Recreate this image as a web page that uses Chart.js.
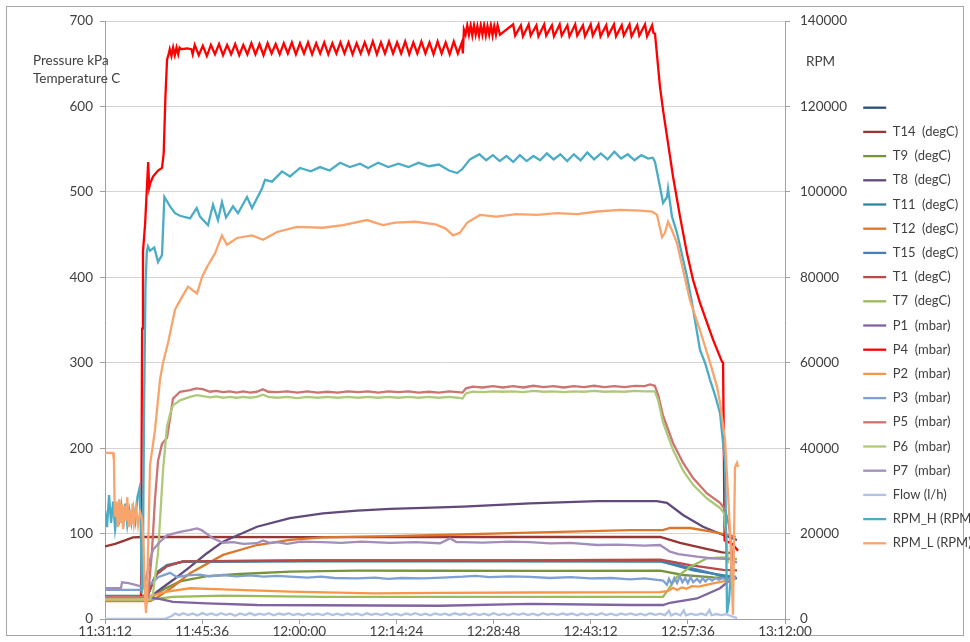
<!DOCTYPE html>
<html>
<head>
<meta charset="utf-8">
<script src="https://cdn.jsdelivr.net/npm/chart.js@4.4.1/dist/chart.umd.min.js"></script>
<style>
  html, body { margin: 0; padding: 0; background: #fff; }
  #wrap { width: 970px; height: 642px; }
</style>
</head>
<body>
<div id="wrap"><canvas id="chart" width="970" height="642"></canvas></div>
<script>
// x values are minutes after 11:31:12, y values in kPa / degC (RPM series in RPM)
const startSec = 11 * 3600 + 31 * 60 + 12;
const xMaxSec = 6048;      // 13:12:00
const xStepSec = 864;      // 0:14:24
const leftTicks = [0, 700, 100];
const rightTicks = [0, 140000, 20000];

const blank = [];
const t14 = [[0,85],[1.5,88],[2.96,92],[4.15,95.5],[5.5,96],[30,95.8],[60,96],[82.3,96],[85.24,89],[88.65,83],[91.5,78],[93.1,77]];
const t9 = [[0,23],[5.5,23],[6.67,24],[7.71,30],[9.0,36],[10.08,40],[11.12,44],[12.6,46.5],[15.12,50.3],[20,52.7],[27.42,55.4],[37.36,56.6],[50,56.5],[65,56.3],[82.3,56.5],[85.68,51.5],[90.13,48.8],[93.69,47.5]];
const t8 = [[0,24],[6.0,24],[6.67,25],[7.71,32],[10.08,45.6],[12.6,61],[15.12,77],[17.49,90.5],[22.53,108],[27.42,118],[32.32,123.7],[37.36,126.8],[42.25,129],[49.66,130.7],[53.07,131.5],[63.0,135.4],[72.93,138],[81.8,138],[83.3,136],[85.68,121.7],[88.65,108],[91.62,98.3],[93.69,92.5]];
const t11 = [[0,27],[5.6,27],[6.4,30],[6.97,42],[7.71,55],[9.19,63],[11.56,67],[30,67.5],[60,67.5],[82.3,67.3],[84.2,63.5],[87.2,57],[90.1,53],[92.6,50],[93.5,49.5]];
const t12 = [[0,21],[6.7,21],[7.9,26],[10.08,37.8],[12.6,53.7],[17.49,75],[22.53,86.6],[27.42,92.5],[32.32,95.6],[42.25,97],[49.66,98.3],[63.0,101],[77.83,104],[82.7,104],[83.76,106.5],[86.72,106.5],[90.13,102],[92.65,98],[93.5,96]];
const t15 = [[0,25],[5.6,25],[6.4,29],[6.97,40],[7.71,53],[9.19,62],[11.56,67.5],[30,68.5],[60,68.5],[82.3,68.3],[85.68,62],[90.13,53],[92.6,48],[93.69,48]];
const t1 = [[0,25],[5.6,25],[6.4,29],[6.97,40],[7.71,53],[9.19,62],[11.56,67.5],[30,68.5],[60,68.5],[82.3,69.5],[84.2,67],[86.72,63],[91.62,57.4],[93.69,57]];
const t7 = [[0,22],[6.0,22],[10.08,26],[17.49,27.3],[32.32,26],[49.66,26],[82.72,26],[83.46,34],[84.79,49.5],[86.72,61],[89.24,71],[91.62,72],[93.69,70]];
const p1 = [[0,26],[5.63,26],[7.71,24],[10.08,20],[15.12,18.3],[22.53,16.4],[49.66,15.5],[63,17.6],[77.83,16.4],[82.72,16.4],[83.76,19],[87.76,24],[91.17,36],[92.65,45.6],[93.5,48]];
const p4 = [[0,24],[5.34,24],[5.5,340],[5.63,430],[5.95,463],[6.4,535],[6.55,505],[6.7,510],[7.12,518],[7.86,525],[8.45,528],[8.7,545],[8.95,610],[9.2,655],
  [9.4,660],[9.6,667],[9.85,659],[10.1,669],[10.35,660],[10.6,669],[10.85,661],[11.05,669],[11.3,667],[12.2,668],[12.8,667],[13.0,661],
  [13.3,672],[13.9,660],[14.5,671],[15.1,659],[15.7,672],[16.3,661],[16.9,673],[17.5,660],[18.1,672],[18.7,661],[19.3,673],[19.9,660],
  [20.5,672],[21.1,661],[21.7,674],[22.3,661],[22.9,673],[23.5,660],[24.1,674],[24.7,662],[25.3,673],[25.9,661],[26.5,674],[27.1,662],
  [27.7,675],[28.3,661],[28.9,674],[29.5,662],[30.1,675],[30.7,661],[31.3,674],[31.9,662],[32.5,675],[33.1,661],[33.7,674],[34.3,662],
  [34.9,675],[35.5,662],[36.1,675],[36.7,661],[37.3,674],[37.9,662],[38.5,675],[39.1,662],[39.7,676],[40.3,661],[40.9,675],[41.5,662],
  [42.1,676],[42.7,662],[43.3,675],[43.9,662],[44.5,676],[45.1,661],[45.7,675],[46.3,662],[46.9,676],[47.5,662],[48.1,675],[48.7,661],
  [49.3,676],[49.9,662],[50.5,675],[51.1,661],[51.7,676],[52.3,662],[52.9,675],[53.05,662],
  [53.2,690],[53.45,684],[53.7,695],[53.95,684],[54.2,695],[54.45,683],[54.7,695],[54.95,684],[55.2,694],[55.45,683],[55.7,695],[55.95,684],
  [56.2,695],[56.45,683],[56.7,694],[56.95,684],[57.2,695],[57.45,683],[57.7,694],[57.95,684],[58.2,695],[58.55,684],
  [60.5,696],[60.8,683],[61.65,695],[61.95,682],[62.8,696],[63.1,683],[63.95,695],[64.25,682],[65.1,696],[65.4,683],[66.25,695],[66.55,682],
  [67.4,696],[67.7,683],[68.55,695],[68.85,682],[69.7,696],[70.0,683],[70.85,695],[71.15,682],[72.0,696],[72.3,683],[73.15,696],[73.45,682],
  [74.3,695],[74.6,683],[75.45,696],[75.75,682],[76.6,695],[76.9,683],[77.75,696],[78.05,682],[78.9,695],[79.2,683],[80.05,696],[80.35,682],
  [81.1,695],[81.3,686],[81.53,685],[82.27,623],[82.72,596],[83.46,557],[84.2,518],[85.24,471],[86.27,428],[87.17,397],[88.2,370],
  [90.13,327],[91.47,301],[91.62,300],[91.85,92],[93.0,88],[93.84,80]];
const p2 = [[0,23],[5.6,23],[6.23,26],[9.19,32],[12.6,36],[17.49,34.7],[27.42,32],[39.73,30],[49.66,30.5],[63,31],[82.27,31.5],[83.5,33],[84.2,36.5],[84.8,34],[85.5,37],[86.2,35.5],[87,38.5],[88,38],[90.13,41.8],[92.65,45.6],[93.5,47]];
const p3 = [[0,34],[5.3,34],[5.6,36],[6.2,40],[6.97,42],[7.86,49],[9.64,54],[10.67,49],[12.16,51],[14.08,52],[15.5,50],[17.49,51.5],[19.5,50],[21.5,51],[23.5,49.5],[25.5,50.5],
  [27.42,49.5],[30,48.5],[32,49.5],[34,48],[37.36,47.6],[40,48.5],[42,47],[44,48],[47.14,47.6],[50,48.5],[53.07,49.5],[55,50.5],[57,49],[60,50],[63,49.2],[66,48],
  [69,49],[72,47.5],[75,48],[77.83,46.4],[80,47.5],[82.72,45],[83.3,40],[83.6,47],[84.0,41],[84.4,48],[84.8,42],[85.2,50],[85.6,43],[86.0,48],[86.4,42],[86.8,49],
  [87.2,43],[87.76,47],[88.2,43],[88.6,48],[89.0,44],[89.5,48],[90,45],[90.5,48],[91,46],[91.6,48],[92.2,45],[92.8,49],[93.5,48]];
const p5 = [[0,26],[6.37,26],[6.97,80],[7.41,140],[7.86,185],[8.45,205],[9.19,212],[9.64,235],[10.08,258],[11.12,266],[12.6,268],[13.49,270],[14.5,269],[15.57,266],
  [16.5,267],[17.5,265.5],[18.5,266.5],[19.5,265],[20.5,266.5],[21.5,265],[22.5,266],[23.4,269],[24.2,266],[25.5,265.5],[27,266.5],[28.5,265],[30,266.5],[31.5,265],
  [33,266],[34.5,265],[36,266.5],[37.5,265.5],[39,266.5],[40.5,265],[42,266.5],[43.5,265.5],[45,266.5],[46.5,265],[48,266],[49.5,265],[51,266.5],[52.3,265.5],
  [53.0,265],[53.5,270],[54.5,272],[56,271],[57.5,272.5],[59,271],[60.5,272.5],[62,271],[63.5,273],[65,271.5],[66.5,272.5],[68,271],[69.5,272.5],[71,271.5],
  [72.5,273],[74,271.5],[75.5,272.5],[77,271.5],[78.5,273],[80,272.5],[80.8,274.5],[81.5,273],[82.0,262],[82.72,238],[84.2,206],[85.68,183],[87.17,165],
  [89.24,147],[91.17,136],[91.91,128],[92.5,110],[92.9,80],[93.2,62]];
const p6 = [[0,23],[6.67,23],[7.12,30],[7.86,77],[8.6,174],[9.19,225],[9.64,240],[10.08,250],[11.12,256],[12.6,260],[13.6,262],[14.5,261],[15.57,259.5],
  [16.5,260.5],[17.5,259],[18.5,260],[19.5,259],[20.5,260],[21.5,259],[22.5,260],[23.4,262.5],[24.2,260],[25.5,259],[27,260],[28.5,258.5],[30,260],[31.5,259],
  [33,260],[34.5,259],[36,260],[37.5,259],[39,260],[40.5,259],[42,260],[43.5,259],[45,260],[46.5,259],[48,260],[49.5,259],[51,260],[52.3,259],
  [53.0,258],[53.5,264],[54.5,266],[56,265.5],[57.5,266.5],[59,266],[60.5,266.5],[62,265.5],[63.5,267],[65,266],[66.5,266.5],[68,265.5],[69.5,266.5],[71,266],
  [72.5,267],[74,266],[75.5,266.5],[77,266],[78.5,267],[80,266.5],[81.5,266.5],[82.0,256],[82.72,230],[84.2,198],[85.68,174],[87.17,157],
  [89.24,141],[91.17,130],[91.76,124],[92.1,95],[92.4,65]];
const p7 = [[0,36],[2.37,36],[2.52,43],[3.5,42],[4.5,40],[5.19,38.5],[5.63,38],[6.0,45],[6.67,69],[7.12,81],[8.15,90.5],[9.19,98],[11.12,102],[12.5,104],[13.64,106],
  [14.3,104],[14.53,103],[16.0,94.4],[17.49,89.3],[19,90],[20.5,88],[22.53,88.7],[23.42,92],[24.5,89],[25.5,90],[27,88],[29,90.5],[32.32,90],[35,89],[38,90.5],
  [42.25,89],[46,90],[49.66,88.7],[51.14,94.4],[52.1,90],[53.07,90],[56,89.5],[60,90.5],[63,90],[66,88.5],[69,89],[72.93,86.6],[76,87],[80,86],[82.27,86.6],
  [83.76,78.8],[85,76],[87.76,73],[90,71],[92.65,70],[93.69,66]];
const flow = [[0,0],[8.9,0],[9.3,1.5],[9.9,3.5],[10.4,6.5],[11.0,4.5],[11.6,6.8],[12.3,4.6],[13.0,6.4],[13.7,4.2],[14.4,6.9],[15.1,4.8],[15.8,6.5],[16.5,4.4],
  [17.2,6.7],[17.9,4.9],[18.6,6.2],[19.3,3.8],[20.0,6.6],[20.8,4.7],[21.5,6.9],[22.2,4.5],[22.9,6.3],[23.6,4.8],[24.3,6.7],[25.0,4.3],[25.8,6.4],[26.5,5.0],
  [27.2,6.8],[27.9,4.6],[28.6,6.1],[29.4,4.4],[30.1,6.6],[30.8,4.9],[31.5,6.3],[32.3,4.5],[33.0,6.8],[33.7,4.7],[34.4,6.2],[35.2,4.4],[35.9,6.6],[36.6,4.9],
  [37.3,6.4],[38.1,4.3],[38.8,6.7],[39.5,5.0],[40.2,6.2],[41.0,4.5],[41.7,6.8],[42.4,4.6],[43.1,6.3],[43.9,4.4],[44.6,6.5],[45.3,4.9],[46.0,6.9],[46.8,4.6],
  [47.5,6.2],[48.2,4.4],[48.9,6.6],[49.7,4.8],[50.4,6.3],[51.1,4.5],[51.8,6.7],[52.6,5.0],[53.3,6.4],[54.0,4.3],[54.7,6.6],[55.5,4.7],[56.2,6.2],[56.9,4.5],
  [57.6,6.8],[58.4,4.6],[59.1,6.3],[59.8,4.4],[60.5,6.5],[61.3,4.9],[62.0,6.6],[62.7,4.6],[63.4,6.2],[64.2,4.4],[64.9,6.7],[65.6,4.8],[66.3,6.3],[67.1,4.5],
  [67.8,6.6],[68.5,5.0],[69.2,6.4],[70.0,4.3],[70.7,6.6],[71.4,4.7],[72.1,6.2],[72.9,4.5],[73.6,6.8],[74.3,4.6],[75.0,6.3],[75.8,4.4],[76.5,6.5],[77.2,4.9],
  [77.9,6.6],[78.7,4.6],[79.4,6.2],[80.1,4.4],[80.8,6.7],[81.6,4.8],[82.3,6.3],[83.0,4.5],[83.6,9.5],[83.9,4.2],[84.6,6.5],[85.3,4.4],[85.8,10],[86.1,4.3],
  [86.9,6.2],[87.6,4.5],[88.4,6.4],[89.1,4.6],[89.6,10.5],[89.9,4.4],[90.6,5.8],[91.4,4.5],[92.1,5.6],[92.8,3.5],[93.69,1.0]];
const rpmH = [[0,25500],[0.3,21500],[0.6,29000],[0.9,22500],[1.2,27500],[1.5,21000],[1.8,24500],[2.1,23000],[2.4,26500],[2.7,21500],[3.0,27000],[3.3,22000],
  [3.6,25500],[3.9,22500],[4.2,26000],[4.5,23000],[4.8,28500],[5.1,30500],[5.3,22000],[5.45,6000],[5.6,9000],[5.8,50000],[6.0,78000],[6.2,86000],[6.37,87200],
  [6.67,86200],[7.3,87000],[7.86,83600],[8.45,85200],[8.8,98800],[9.64,96600],[10.38,95000],[11.12,94400],[12.6,93800],[13.6,96200],[14.08,94200],[15.27,92200],
  [16.01,97000],[16.75,93400],[17.34,97600],[17.94,94000],[18.97,96600],[19.72,95000],[21.05,98800],[21.79,96200],[23.27,100800],[23.72,102800],[24.76,102400],
  [26.24,104800],[27.42,103600],[28.91,105600],[30.5,104800],[31.87,105800],[33.3,105000],[34.84,106800],[36.3,105800],[37.8,106600],[39,105600],[40.5,106800],
  [42,105800],[43.5,106600],[45,105800],[46.5,106800],[48,106000],[49.5,106400],[51,105000],[52.2,104400],[53,105400],[54.1,107600],[55.5,108800],[56.5,107400],
  [57.5,108600],[58.5,107200],[59.5,108400],[60.5,107000],[61.5,108600],[62.5,107200],[63.5,108400],[64.5,107400],[65.5,109000],[66.5,107600],[67.5,108800],
  [68.5,107200],[69.5,108800],[70.5,107400],[71.5,109200],[72.5,107600],[73.5,109000],[74.5,107600],[75.5,109400],[76.5,107800],[77.5,108800],[78.5,107400],
  [79.5,108600],[80.5,107800],[81.2,108000],[81.53,107000],[82.27,101200],[82.72,97400],[83.31,98800],[83.46,100800],[84.05,94200],[84.79,90400],[86.27,80200],
  [87.02,74000],[88.2,63000],[88.94,60000],[89.69,56000],[90.43,52400],[91.17,48200],[91.91,36600],[92.06,20800],[92.21,1400],[92.5,4400],[92.8,11400],[93.09,9000]];
const rpmL = [[0,38900],[1.19,38900],[1.33,37000],[1.45,24000],[1.7,27500],[1.9,21500],[2.1,28000],[2.3,22500],[2.5,27000],[2.7,21000],[2.9,26500],[3.1,23000],
  [3.3,28500],[3.5,21500],[3.7,25500],[3.9,22000],[4.1,27000],[4.3,22500],[4.6,26000],[4.9,22000],[5.2,25000],[5.48,23500],[5.7,18000],[5.93,5000],[6.08,1400],
  [6.23,5000],[6.67,36000],[7.41,44200],[8.15,56000],[8.6,60000],[9.34,64600],[10.38,72400],[11.12,74600],[12.3,77800],[13.64,76200],[14.38,80000],[15.12,82400],
  [16.31,85600],[17.34,89800],[18.09,87600],[19.57,89200],[21.79,89800],[23.42,88800],[25.5,90600],[28.46,91800],[32.32,91600],[35.28,92200],[38.84,93400],
  [41.21,92200],[43,92800],[46,93000],[49,92400],[50.5,91400],[51.6,89800],[52.6,90400],[53.7,92800],[55.59,94600],[58,94200],[61,94800],[64,94600],[67,95000],
  [70,94800],[73,95400],[76.34,95800],[79.31,95600],[81.1,95400],[81.83,94600],[82.57,89400],[83.01,90400],[83.46,93000],[84.05,91000],[84.79,88000],
  [85.68,81800],[86.72,74600],[88.2,67600],[89.69,60000],[90.72,54400],[91.17,50600],[91.91,42000],[92.65,20800],[93.09,1000],[93.39,35600],[93.69,36600],[93.84,35600]];

const seriesList = [
  { label: '', pts: blank, color: '#2C4D75' },
  { label: 'T14  (degC)', pts: t14, color: '#953735' },
  { label: 'T9  (degC)', pts: t9, color: '#77933C' },
  { label: 'T8  (degC)', pts: t8, color: '#604A7B' },
  { label: 'T11  (degC)', pts: t11, color: '#31859C' },
  { label: 'T12  (degC)', pts: t12, color: '#D9782D' },
  { label: 'T15  (degC)', pts: t15, color: '#4A7EBB' },
  { label: 'T1  (degC)', pts: t1, color: '#B84A47' },
  { label: 'T7  (degC)', pts: t7, color: '#9BBB59' },
  { label: 'P1  (mbar)', pts: p1, color: '#8064A2' },
  { label: 'P4  (mbar)', pts: p4, color: '#FF0000' },
  { label: 'P2  (mbar)', pts: p2, color: '#F79646' },
  { label: 'P3  (mbar)', pts: p3, color: '#7EA0D2' },
  { label: 'P5  (mbar)', pts: p5, color: '#CD7371' },
  { label: 'P6  (mbar)', pts: p6, color: '#AFC97A' },
  { label: 'P7  (mbar)', pts: p7, color: '#A28DBB' },
  { label: 'Flow (l/h)', pts: flow, color: '#B0C3E5' },
  { label: 'RPM_H (RPM)', pts: rpmH, color: '#4BACC6', axis: 'y1' },
  { label: 'RPM_L (RPM)', pts: rpmL, color: '#F9A46C', axis: 'y1' }
];

const fontFamily = 'Lato, "Open Sans", sans-serif';
const textColor = '#404040';
Chart.defaults.font.family = fontFamily;
Chart.defaults.font.size = 13.5;
Chart.defaults.color = textColor;

function clock(v) {
  const t = startSec + Math.round(v);
  const h = Math.floor(t / 3600);
  const m = Math.floor((t % 3600) / 60);
  const s = t % 60;
  return h + ':' + String(m).padStart(2, '0') + ':' + String(s).padStart(2, '0');
}

// frame around the chart plus the two axis titles
const framePlugin = {
  id: 'frame',
  beforeDraw(chart) {
    const c = chart.ctx;
    c.save();
    c.fillStyle = '#ffffff';
    c.fillRect(0, 0, chart.width, chart.height);
    c.strokeStyle = '#a6a6a6';
    c.lineWidth = 1;
    c.strokeRect(6.5, 6.5, 957, 629);
    c.restore();
  },
  afterDraw(chart) {
    const c = chart.ctx;
    const area = chart.chartArea;
    c.save();
    c.font = '13.5px ' + fontFamily;
    c.fillStyle = textColor;
    c.textBaseline = 'middle';
    c.textAlign = 'left';
    c.fillText('Pressure kPa', 33, area.top + 40);
    c.fillText('Temperature C', 33, area.top + 58);
    c.fillText('RPM', area.right + 21, area.top + 41);
    c.restore();
  }
};

const n = seriesList.length;
const datasets = seriesList.map((s, i) => ({
  label: s.label,
  data: s.pts.map(p => ({ x: p[0] * 60, y: p[1] })),
  borderColor: s.color,
  backgroundColor: s.color,
  borderWidth: 2.3,
  pointRadius: 0,
  tension: 0,
  fill: false,
  yAxisID: s.axis || 'y',
  order: n - i
}));

const ctx = document.getElementById('chart').getContext('2d');
new Chart(ctx, {
  type: 'line',
  data: { datasets: datasets },
  plugins: [framePlugin],
  options: {
    responsive: false,
    animation: false,
    devicePixelRatio: 1,
    layout: { padding: { left: 0, top: 21, right: 0, bottom: 0 } },
    plugins: {
      tooltip: { enabled: false },
      legend: {
        position: 'right',
        align: 'start',
        maxWidth: 118,
        // empty title only pushes the entries down to where the reference starts them
        title: { display: true, text: '', padding: { top: 57, bottom: 0 }, font: { size: 10 } },
        labels: {
          usePointStyle: true,
          pointStyle: 'line',
          pointStyleWidth: 23,
          boxHeight: 13,
          padding: 11.2,
          color: textColor,
          font: { size: 13 },
          sort: (a, b) => a.datasetIndex - b.datasetIndex
        }
      }
    },
    scales: {
      x: {
        type: 'linear',
        min: 0,
        max: xMaxSec,
        ticks: { stepSize: xStepSec, maxRotation: 0, autoSkip: false, padding: 0, callback: v => clock(v) },
        grid: { drawOnChartArea: false, tickColor: '#a0a0a0', tickLength: 5 },
        border: { color: '#a0a0a0' },
        afterFit: s => { s.height = 23; }
      },
      y: {
        position: 'left',
        min: leftTicks[0],
        max: leftTicks[1],
        ticks: { stepSize: leftTicks[2], padding: 7 },
        grid: { color: '#d4d4d4', tickColor: '#a0a0a0', tickLength: 5 },
        border: { color: '#a0a0a0' },
        afterFit: s => { s.width = 105; }
      },
      y1: {
        position: 'right',
        min: rightTicks[0],
        max: rightTicks[1],
        ticks: { stepSize: rightTicks[2], padding: 10, callback: v => String(v) },
        grid: { drawOnChartArea: false, tickColor: '#a0a0a0', tickLength: 5 },
        border: { color: '#a0a0a0' },
        afterFit: s => { s.width = 67; }
      }
    }
  }
});
</script>
</body>
</html>
